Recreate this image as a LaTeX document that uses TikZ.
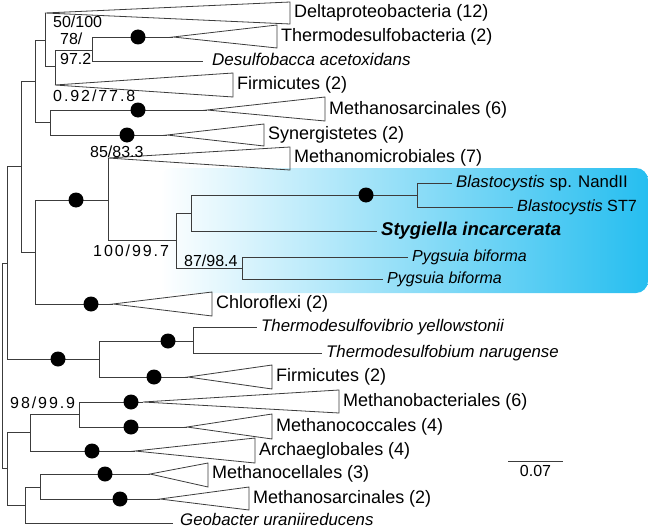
\documentclass[tikz,border=0pt]{standalone}
\usepackage{fontspec}
\setmainfont{Liberation Sans}
\usetikzlibrary{calc}
\definecolor{boxblue}{RGB}{38,190,240}
\definecolor{treegray}{RGB}{60,60,60}
\tikzset{
  line cap=round,
  line join=round,
  branch/.style={draw=treegray, line width=0.8pt},
  clade/.style={draw=treegray, line width=0.8pt},
  dot/.style={circle, fill=black, inner sep=0pt, minimum size=15pt},
  tip/.style={anchor=base west, inner sep=0pt, font=\fontsize{18}{21}\selectfont},
  itip/.style={tip, font=\fontsize{16.8}{20}\selectfont\itshape},
  boot/.style={anchor=base west, inner sep=0pt, font=\fontsize{16}{19}\selectfont},
  spaced/.style={font=\fontsize{16}{19}\selectfont\addfontfeature{LetterSpace=12}}
}

\begin{document}
\begin{tikzpicture}[x=1pt, y=-1pt]
  \useasboundingbox (0,0) rectangle (648,527);

  % highlighted clade
  \shade[left color=white, right color=boxblue, rounded corners=12pt]
    (160,168) rectangle (648,293);

  % internal nodes
  \coordinate (nRoot) at (2,365);
  \coordinate (nU) at (7,263);
  \coordinate (nF) at (21,166);
  \coordinate (nD) at (35,81);
  \coordinate (nA) at (45,40);
  \coordinate (nB) at (55,66);
  \coordinate (nC) at (92,50);
  \coordinate (nE) at (50,122);
  \coordinate (nG) at (35,252);
  \coordinate (nH) at (108,200);
  \coordinate (nI) at (176,240);
  \coordinate (nJ) at (191,213);
  \coordinate (nL) at (417,195);
  \coordinate (nK) at (242,268);
  \coordinate (nM) at (99,359);
  \coordinate (nN) at (193,341);
  \coordinate (nP) at (7,468);
  \coordinate (nQ) at (30,432);
  \coordinate (nR) at (79,414);
  \coordinate (nS) at (25,505);
  \coordinate (nT) at (40,487);

  % clade apices and leaf ends
  \coordinate (cDelta) at (45,13);
  \coordinate (cThermoB) at (173,37);
  \coordinate (tDesulfo) at (203,61);
  \coordinate (cFirmA) at (55,85);
  \coordinate (cMsarcA) at (207,110);
  \coordinate (cSyn) at (167,135);
  \coordinate (cMmicro) at (108,158);
  \coordinate (tNand) at (452,183);
  \coordinate (tST7) at (513,207);
  \coordinate (tStyg) at (377,231);
  \coordinate (tPygA) at (408,257);
  \coordinate (tPygB) at (383,279);
  \coordinate (cChloro) at (113,304);
  \coordinate (tTvib) at (257,327);
  \coordinate (tTbium) at (322,353);
  \coordinate (cFirmB) at (188,377);
  \coordinate (cMbact) at (143,402);
  \coordinate (cMcocc) at (187,427);
  \coordinate (cArch) at (135,451);
  \coordinate (cMcell) at (150,474);
  \coordinate (cMsarcB) at (160,499);
  \coordinate (tGeo) at (173,523);

  % branches
  \foreach \p/\c in {nRoot/nU, nRoot/nP, nU/nF, nU/nM, nF/nD, nF/nG,
      nD/nA, nD/nE, nA/cDelta, nA/nB, nB/nC, nB/cFirmA, nC/cThermoB,
      nC/tDesulfo, nE/cMsarcA, nE/cSyn, nG/nH, nG/cChloro, nH/cMmicro,
      nH/nI, nI/nJ, nI/nK, nJ/nL, nJ/tStyg, nL/tNand, nL/tST7,
      nK/tPygA, nK/tPygB, nM/nN, nM/cFirmB, nN/tTvib, nN/tTbium,
      nP/nQ, nP/nS, nQ/nR, nQ/cArch, nR/cMbact, nR/cMcocc,
      nS/nT, nS/tGeo, nT/cMcell, nT/cMsarcB}
    \draw[branch] (\p) |- (\c);

  % collapsed clades
  \draw[clade] (cDelta) -- (290,2) -- (290,24) -- cycle;
  \draw[clade] (cThermoB) -- (277,25) -- (277,48) -- cycle;
  \draw[clade] (cFirmA) -- (233,73) -- (233,97) -- cycle;
  \draw[clade] (cMsarcA) -- (325,97) -- (325,121) -- cycle;
  \draw[clade] (cSyn) -- (264,124) -- (264,146) -- cycle;
  \draw[clade] (cMmicro) -- (290,147) -- (290,170) -- cycle;
  \draw[clade] (cChloro) -- (212,292) -- (212,316) -- cycle;
  \draw[clade] (cFirmB) -- (272,365) -- (272,389) -- cycle;
  \draw[clade] (cMbact) -- (339,390) -- (339,413) -- cycle;
  \draw[clade] (cMcocc) -- (272,414) -- (272,439) -- cycle;
  \draw[clade] (cArch) -- (255,438) -- (255,463) -- cycle;
  \draw[clade] (cMcell) -- (208,463) -- (208,487) -- cycle;
  \draw[clade] (cMsarcB) -- (249,487) -- (249,510) -- cycle;

  % supported nodes
  \node[dot] (dThermoB) at (138,37) {};
  \node[dot] (dMsarcA) at (138,110) {};
  \node[dot] (dSyn) at (127,135) {};
  \node[dot] (dH) at (76,200) {};
  \node[dot] (dL) at (366,195) {};
  \node[dot] (dChloro) at (91,304) {};
  \node[dot] (dM) at (58,359) {};
  \node[dot] (dN) at (168,341) {};
  \node[dot] (dFirmB) at (154,377) {};
  \node[dot] (dMbact) at (131,402) {};
  \node[dot] (dMcocc) at (131,427) {};
  \node[dot] (dArch) at (92,451) {};
  \node[dot] (dMcell) at (105,474) {};
  \node[dot] (dMsarcB) at (120,499) {};

  % leaf and clade labels
  \node[tip] (lDelta) at (294,17.5) {Deltaproteobacteria (12)};
  \node[tip] (lThermoB) at (281,41.5) {Thermodesulfobacteria (2)};
  \node[itip, font=\fontsize{17}{20}\selectfont\itshape] (lDesulfo) at (212,65.5) {Desulfobacca acetoxidans};
  \node[tip] (lFirmA) at (237,89.5) {Firmicutes (2)};
  \node[tip] (lMsarcA) at (329,114.5) {Methanosarcinales (6)};
  \node[tip] (lSyn) at (268,139.5) {Synergistetes (2)};
  \node[tip] (lMmicro) at (294,162.5) {Methanomicrobiales (7)};
  \node[itip] (lNand) at (456,187.5) {Blastocystis\/ \upshape sp. NandII};
  \node[itip, font=\fontsize{16.2}{20}\selectfont\itshape] (lST7) at (517,211.5) {Blastocystis\/ \upshape ST7};
  \node[tip, font=\fontsize{18.5}{21}\selectfont\bfseries\itshape] (lStyg) at (381,235.5) {Stygiella incarcerata};
  \node[itip, font=\fontsize{16}{20}\selectfont\itshape] (lPygA) at (412,261.5) {Pygsuia biforma};
  \node[itip, font=\fontsize{16}{20}\selectfont\itshape] (lPygB) at (387,283.5) {Pygsuia biforma};
  \node[tip] (lChloro) at (216,308.5) {Chloroflexi (2)};
  \node[itip] (lTvib) at (261,331.5) {Thermodesulfovibrio yellowstonii};
  \node[itip] (lTbium) at (326,357.5) {Thermodesulfobium narugense};
  \node[tip] (lFirmB) at (276,381.5) {Firmicutes (2)};
  \node[tip] (lMbact) at (343,406.5) {Methanobacteriales (6)};
  \node[tip] (lMcocc) at (276,431.5) {Methanococcales (4)};
  \node[tip] (lArch) at (259,455.5) {Archaeglobales (4)};
  \node[tip] (lMcell) at (212,478.5) {Methanocellales (3)};
  \node[tip] (lMsarcB) at (253,503.5) {Methanosarcinales (2)};
  \node[itip] (lGeo) at (180,525) {Geobacter uraniireducens};

  % support values
  \node[boot] (bA) at (53,28) {50/100};
  \node[boot] (bCa) at (60,45) {78/};
  \node[boot] (bCb) at (60,65) {97.2};
  \node[boot, spaced] (bE) at (53,101) {0.92/77.8};
  \node[boot] (bH) at (90,157) {85/83.3};
  \node[boot, spaced] (bI) at (93,256) {100/99.7};
  \node[boot] (bK) at (184,266) {87/98.4};
  \node[boot, spaced] (bR) at (10,408) {98/99.9};

  % scale bar
  \coordinate (sL) at (508,461);
  \coordinate (sR) at (563,461);
  \draw[branch] (sL) -- (sR);
  \node[boot, anchor=base] (sLab) at ($(sL)!0.5!(sR)+(0,15)$) {0.07};
\end{tikzpicture}
\end{document}
